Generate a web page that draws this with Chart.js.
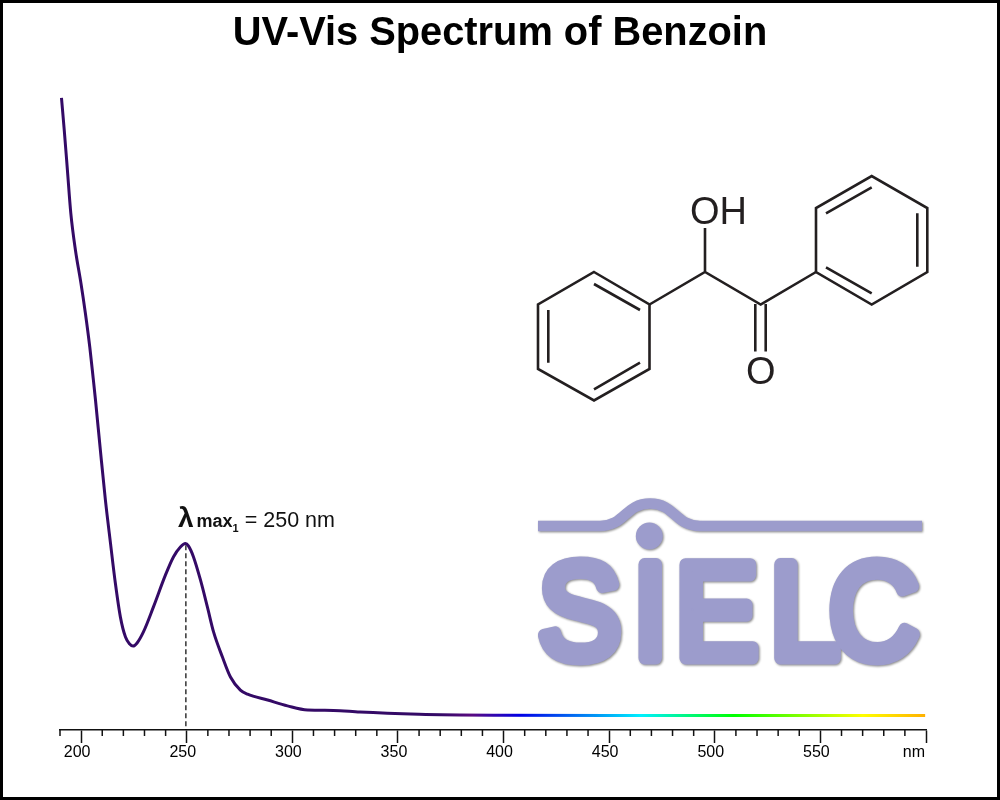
<!DOCTYPE html>
<html>
<head>
<meta charset="utf-8">
<title>UV-Vis Spectrum of Benzoin</title>
<script src="https://cdn.jsdelivr.net/npm/chart.js@4"></script>
<style>
  html, body { margin: 0; padding: 0; background: #fff; }
  #wrap { position: relative; width: 1000px; height: 800px; overflow: hidden; }
  #wrap canvas { position: absolute; left: 0; top: 0; }
  #frame { position: absolute; inset: 0; border: 3px solid #000; box-sizing: border-box; pointer-events: none; }
  #art { position: absolute; left: 0; top: 0; }
  #peakLabel { position: absolute; left: 178px; top: 504px; font: 21.5px/28px "Liberation Sans", Arial, sans-serif; color: #111; white-space: nowrap; }
  #peakLabel b.lam { font-size: 28px; }
  #peakLabel b.max { font-size: 18px; margin-left: 3px; }
  #peakLabel sub { font-size: 11px; line-height: 0; }
</style>
</head>
<body>
<div id="wrap">
  <canvas id="chart" width="1000" height="800"></canvas>
  <svg id="art" width="1000" height="800" xmlns="http://www.w3.org/2000/svg">
    <!-- benzoin structure -->
    <g fill="none" stroke="#231f20" stroke-width="2.6" stroke-linejoin="miter">
      <path d="M594 272 L649.5 304.5 V369 L594 400.5 L538 369 V304.5 Z"/>
      <path d="M594 284 L640 310 M548.3 310 V362.7 M594 389.3 L640 362.7"/>
      <path d="M649.5 304.5 L705 272 L760.7 304.5 L816 272 M705 272 V228"/>
      <path d="M755.3 304 V351.5 M765.7 304 V351.5"/>
      <path d="M816 272 V208 L871.7 176 L927.3 208 V272 L871.7 304.5 Z"/>
      <path d="M826 213.3 L871.7 187.3 M917.3 213.3 V266.7 M826 267.3 L871.7 293.3"/>
    </g>
    <g font-family="Liberation Sans, Arial, sans-serif" font-size="38" fill="#231f20">
      <text x="690" y="224">OH</text>
      <text x="746" y="384">O</text>
    </g>
    <!-- SIELC logo -->
    <g style="filter: drop-shadow(1.5px 1.5px 1px #8a8a8a)">
      <path d="M538 526 H600 C 625 526, 625 503.5, 650 503.5 C 675 503.5, 675 526, 700 526 H922" fill="none" stroke="#9c9ccc" stroke-width="10.5"/>
      <circle cx="649.3" cy="536" r="13.5" fill="#9c9ccc"/>
      <text transform="scale(0.92,1)" x="585 688 734 837 901" y="658.5" font-family="Liberation Sans, Arial, sans-serif" font-size="135"
            fill="#9c9ccc" stroke="#9c9ccc" stroke-width="13" stroke-linejoin="round" stroke-linecap="round">SIELC</text>
    </g>
  </svg>
  <div id="peakLabel"><b class="lam">λ</b><b class="max">max<sub>1</sub></b> = 250 nm</div>
  <div id="frame"></div>
</div>
<script>
const wavelengths = [190.7, 192, 193.5, 195.1, 197.3, 199.9, 202, 204.1, 205.7, 206.8, 209.1, 211.5, 213.9, 216.2, 218.6, 221, 223, 224.6, 226.5, 229.5, 234.2, 239.9, 243.7, 247, 249.4, 250.8, 253.2, 256.5, 259.8, 262.7, 266.9, 270.7, 275.4, 278.8, 288.3, 297.7, 307.2, 319.5, 332, 360, 400, 450, 500, 550, 599.6];
const absorbance = [1.795, 1.702, 1.586, 1.461, 1.353, 1.257, 1.17, 1.071, 0.981, 0.917, 0.772, 0.626, 0.501, 0.385, 0.286, 0.228, 0.208, 0.202, 0.211, 0.243, 0.315, 0.408, 0.461, 0.49, 0.5, 0.493, 0.461, 0.394, 0.315, 0.243, 0.17, 0.112, 0.074, 0.062, 0.045, 0.028, 0.016, 0.015, 0.01, 0.004, 0.001, 0, 0, 0, 0];
const lambdaMax = 249.6;
const lambdaMaxAbs = 0.495;
const axisLabels = [200, 250, 300, 350, 400, 450, 500, 550];
const unitLabel = "nm";
const spectrumStops = [[370, "#340a66"], [385, "#5a0a80"], [408, "#0000e6"], [465, "#00f0ff"], [509, "#00ff00"], [570, "#ffff00"], [600, "#ffb000"]];

const yMin = -0.042;
const yMax = 1.818;

function spectrumGradient(context) {
    const chart = context.chart;
    const x = chart.scales.x;
    if (!chart.chartArea || !x) return "#340a66";
    const x0 = x.getPixelForValue(190);
    const x1 = x.getPixelForValue(600);
    const g = chart.ctx.createLinearGradient(x0, 0, x1, 0);
    g.addColorStop(0, "#340a66");
    for (const [nm, color] of spectrumStops) {
        g.addColorStop((nm - 190) / 410, color);
    }
    return g;
}

// short ticks and the unit at the right end of the axis
const axisExtras = {
    id: "axisExtras",
    afterDraw(chart) {
        const x = chart.scales.x;
        const ctx = chart.ctx;
        const bottom = chart.chartArea.bottom;
        ctx.save();
        ctx.strokeStyle = "#111";
        ctx.lineWidth = 1.5;
        for (const t of x.ticks) {
            if (t.value % 50 === 0 || t.value === 600) continue;
            const px = x.getPixelForValue(t.value);
            ctx.beginPath();
            ctx.moveTo(px, bottom);
            ctx.lineTo(px, bottom + 6);
            ctx.stroke();
        }
        ctx.fillStyle = "#000";
        ctx.font = '16px "Liberation Sans", Arial, sans-serif';
        ctx.textAlign = "right";
        ctx.textBaseline = "alphabetic";
        ctx.fillText(unitLabel, x.getPixelForValue(600) - 1, bottom + 27);
        ctx.restore();
    }
};

// empty side axes keep the plot at 60..926 while the title stays centred on the page
const hiddenSide = width => ({
    display: true,
    min: yMin,
    max: yMax,
    afterFit(scale) { scale.width = width; },
    border: { display: false },
    grid: { display: false },
    ticks: { display: false }
});

new Chart(document.getElementById("chart"), {
    type: "line",
    data: {
        datasets: [
            {
                data: wavelengths.map((w, i) => ({ x: w, y: absorbance[i] })),
                borderColor: spectrumGradient,
                borderWidth: 3,
                pointRadius: 0,
                cubicInterpolationMode: "monotone",
                fill: false
            },
            {
                data: [{ x: lambdaMax, y: lambdaMaxAbs }, { x: lambdaMax, y: yMin }],
                borderColor: "#000",
                borderWidth: 1.2,
                borderDash: [5, 3],
                pointRadius: 0,
                fill: false
            }
        ]
    },
    plugins: [axisExtras],
    options: {
        responsive: false,
        animation: false,
        layout: { padding: 0 },
        plugins: {
            legend: { display: false },
            tooltip: { enabled: false },
            title: {
                display: true,
                text: "UV-Vis Spectrum of Benzoin",
                color: "#000",
                font: { family: '"Liberation Sans", Arial, sans-serif', size: 39.8, weight: "bold" },
                padding: { top: 10, bottom: 32.2 }
            }
        },
        scales: {
            x: {
                type: "linear",
                min: 190,
                max: 600,
                afterFit(scale) { scale.height = 70; },
                border: { color: "#111", width: 1.5 },
                grid: {
                    drawOnChartArea: false,
                    tickLength: 13,
                    tickWidth: 1.5,
                    tickColor: c => (c.tick && (c.tick.value % 50 === 0 || c.tick.value === 600)) ? "#111" : "rgba(0,0,0,0)"
                },
                ticks: {
                    stepSize: 10,
                    autoSkip: false,
                    maxRotation: 0,
                    padding: 0,
                    labelOffset: -4,
                    color: "#000",
                    font: { family: '"Liberation Sans", Arial, sans-serif', size: 16 },
                    callback: v => axisLabels.includes(v) ? String(v) : ""
                }
            },
            y: hiddenSide(60),
            yRight: { ...hiddenSide(74), position: "right" }
        }
    }
});
</script>
</body>
</html>
